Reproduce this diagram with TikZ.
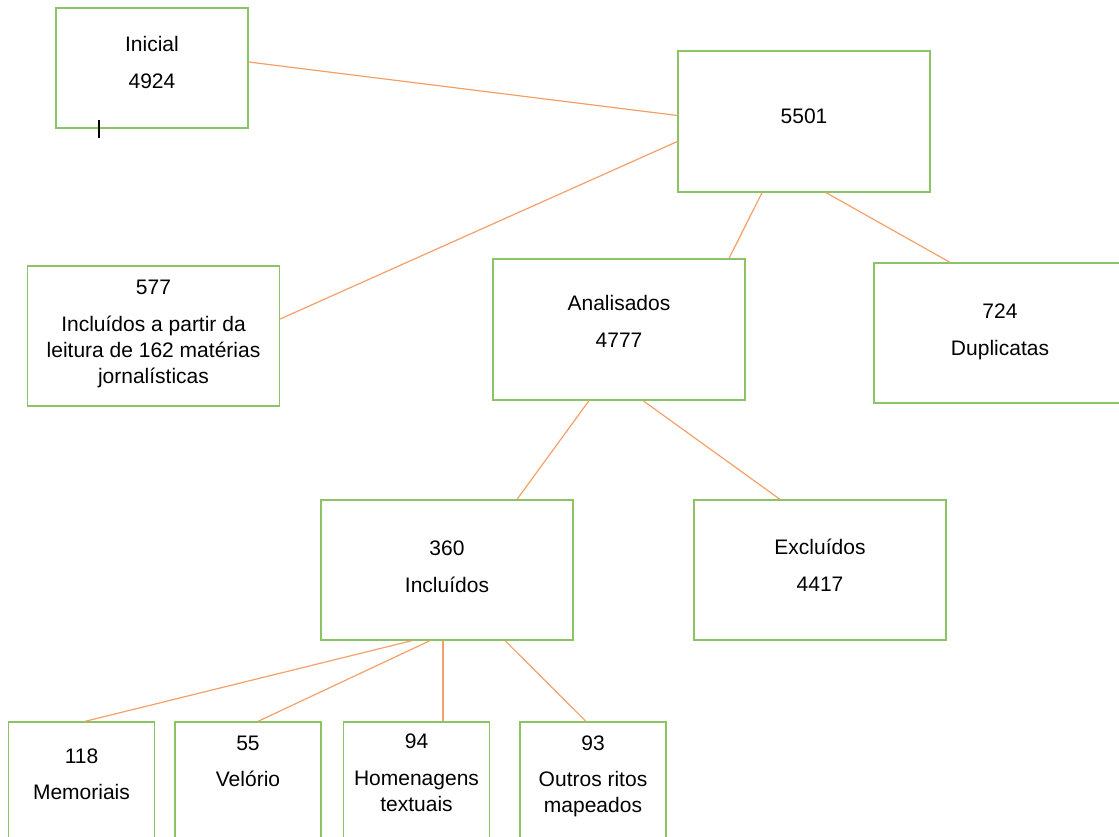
\documentclass[tikz,border=0pt]{standalone}
\usepackage{fontspec}
\setmainfont{Liberation Sans}
\definecolor{boxgreen}{RGB}{140,195,100}
\definecolor{linkorange}{RGB}{245,160,105}
\begin{document}
\begin{tikzpicture}
			[x=1pt,y=-1pt,
			box/.style={draw=boxgreen,line width=1.3pt,rectangle,inner sep=0pt,align=center,
				font=\fontsize{21}{26}\selectfont},
			wide/.style={box,minimum width=252pt,minimum height=140pt},
			leaf/.style={box,minimum width=146pt,minimum height=140pt},
			link/.style={draw=linkorange,line width=1.2pt}]
			\useasboundingbox (0,0) rectangle (1119,837);
			\clip (0,0) rectangle (1119,837);
			\node[box,minimum width=192pt,minimum height=120pt] (ini) at (152,68) {Inicial\\[11pt]4924\\[-14pt]\mbox{}};
			\node[wide,minimum height=141pt] (top) at (804,121.5) {5501\\[-16pt]\mbox{}};
			\node[wide] (ext) at (153.5,336) {577\\[11pt]Incluídos a partir da\\leitura de 162 matérias\\jornalísticas\\[-18pt]\mbox{}};
			\node[wide,minimum height=141pt] (ana) at (619,329.5) {Analisados\\[11pt]4777\\[-10pt]\mbox{}};
			\node[wide] (dup) at (1000,333) {724\\[11pt]Duplicatas\\[-20pt]\mbox{}};
			\node[wide] (inc) at (447,570) {360\\[11pt]Incluídos\\[-20pt]\mbox{}};
			\node[wide] (exc) at (820,570) {Excluídos\\[11pt]4417\\[-16pt]\mbox{}};
			\node[leaf] (mem) at (81.5,792) {118\\[10pt]Memoriais\\[10pt]\mbox{}};
			\node[leaf] (vel) at (248,792) {55\\[10pt]Velório\\[36pt]\mbox{}};
			\node[leaf] (hom) at (416.5,792) {94\\[11pt]Homenagens\\textuais\\[12pt]\mbox{}};
			\node[leaf] (out) at (593,792) {93\\[10pt]Outros ritos\\mapeados\\[10pt]\mbox{}};
			\path[link]
			([yshift=6pt]ini.east) edge ([yshift=6pt]top.west)
			([yshift=-20pt]top.west) edge ([yshift=17pt]ext.east)
			([xshift=-42pt]top.south) edge ([xshift=110pt]ana.north)
			([xshift=22pt]top.south) edge ([xshift=-50pt]dup.north)
			([xshift=-30pt]ana.south) edge ([xshift=70pt]inc.north)
			([xshift=24pt]ana.south) edge ([xshift=-40pt]exc.north)
			([xshift=-35pt]inc.south) edge ([xshift=3.5pt]mem.north)
			([xshift=-17pt]inc.south) edge ([xshift=10pt]vel.north)
			([xshift=-4pt]inc.south) edge ([xshift=26.5pt]hom.north)
			([xshift=58pt]inc.south) edge ([xshift=-7pt]out.north);
			% text cursor below the first box
			\draw[line width=2pt] ([xshift=-53pt,yshift=9pt]ini.south) -- ([xshift=-53pt,yshift=-9pt]ini.south);
		\end{tikzpicture}
\end{document}
